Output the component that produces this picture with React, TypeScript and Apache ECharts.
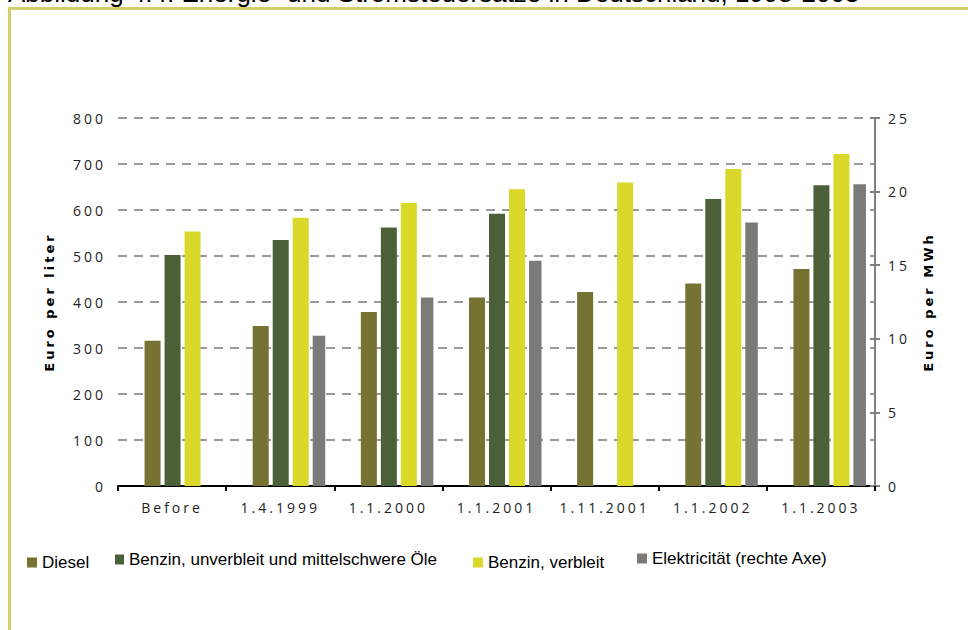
import React, { useEffect, useRef } from "react";
import * as echarts from "echarts";

const titleText = "Abbildung 4.4: Energie- und Stromsteuersätze in Deutschland, 1998-2003";
const categories = ["Before", "1.4.1999", "1.1.2000", "1.1.2001", "1.11.2001", "1.1.2002", "1.1.2003"];
const seriesNames = [
  "Diesel",
  "Benzin, unverbleit und mittelschwere Öle",
  "Benzin, verbleit",
  "Elektricität (rechte Axe)",
];
const diesel = [316, 348, 378, 410, 422, 440, 472];
const benzinUnverbleit = [502, 535, 562, 592, null, 624, 654];
const benzinVerbleit = [553, 583, 615, 645, 660, 689, 722];
const elektrizitaet = [null, 10.2, 12.8, 15.3, null, 17.9, 20.5];
const leftAxisName = "Euro per liter";
const rightAxisName = "Euro per MWh";

const colors = ["#767332", "#4b5f39", "#dad829", "#7a7a78"];
const tickFont = "Open Sans";
const legendFont = "'Liberation Sans Narrow', 'Liberation Sans', Arial, sans-serif";

export default function App() {
  const ref = useRef<HTMLDivElement>(null);
  useEffect(() => {
    if (!ref.current) return;
    const chart = echarts.init(ref.current, null, { renderer: "svg" });
    const bar = (name: string, data: any[], i: number, width: number, yAxisIndex = 0) => ({
      name,
      type: "bar",
      data: data.map((v) => (v == null ? "-" : v)),
      yAxisIndex,
      barWidth: width,
      barGap: "25%",
      itemStyle: { color: colors[i] },
      silent: true,
    });
    const legendAt = (name: string, left: number, top: number, iw: number) => ({
      data: [name],
      left,
      top,
      padding: 0,
      icon: "rect",
      itemWidth: iw,
      itemHeight: 10,
      selectedMode: false,
      textStyle: { fontFamily: legendFont, fontSize: 17, color: "#000" },
    });
    chart.setOption({
      animation: false,
      backgroundColor: "#ffffff",
      graphic: [
        {
          type: "rect",
          shape: { x: 9.5, y: 8.5, width: 980, height: 640 },
          style: { fill: "none", stroke: "#d4cf6e", lineWidth: 3 },
          silent: true,
        },
        {
          type: "text",
          x: 8,
          y: -7,
          style: {
            text: titleText,
            fontFamily: "'Liberation Sans', Arial, sans-serif",
            fontSize: 26,
            fill: "#000",
            verticalAlign: "middle",
            align: "left",
          },
          silent: true,
        },
      ],
      legend: [
        legendAt(seriesNames[0], 27, 554, 10),
        legendAt(seriesNames[1], 115, 551, 9),
        legendAt(seriesNames[2], 473, 554, 10),
        legendAt(seriesNames[3], 637, 550, 10),
      ],
      grid: { left: 118, top: 118, width: 757, height: 368, containLabel: false },
      xAxis: {
        type: "category",
        data: categories,
        axisLine: { show: true, lineStyle: { color: "#000", width: 2 } },
        axisTick: { show: true, length: 5, lineStyle: { color: "#000", width: 2 } },
        axisLabel: { fontFamily: tickFont, fontSize: 14, color: "#222", margin: 14, interval: 0 },
        splitLine: { show: false },
      },
      yAxis: [
        {
          type: "value",
          min: 0,
          max: 800,
          interval: 100,
          position: "left",
          name: leftAxisName,
          nameLocation: "middle",
          nameGap: 62,
          nameTextStyle: { fontFamily: "DejaVu Sans", fontWeight: "bold", fontSize: 13, color: "#000" },
          axisLine: { show: false },
          axisTick: { show: false },
          axisLabel: { fontFamily: tickFont, fontSize: 14, color: "#222", margin: 12 },
          splitLine: { show: true, lineStyle: { color: "#9a9a9a", width: 2, type: [9, 7] } },
        },
        {
          type: "value",
          min: 0,
          max: 25,
          interval: 5,
          position: "right",
          name: rightAxisName,
          nameLocation: "middle",
          nameGap: 47,
          nameTextStyle: { fontFamily: "DejaVu Sans", fontWeight: "bold", fontSize: 13, color: "#000" },
          axisLine: { show: true, lineStyle: { color: "#808080", width: 2 } },
          axisTick: { show: false },
          axisLabel: { fontFamily: tickFont, fontSize: 14, color: "#222", margin: 13 },
          splitLine: { show: false },
        },
        {
          type: "value",
          min: 0,
          max: 25,
          interval: 5,
          position: "right",
          offset: -5,
          axisLine: { show: false },
          axisTick: { show: true, length: 10, lineStyle: { color: "#808080", width: 2 } },
          axisLabel: { show: false },
          splitLine: { show: false },
        },
      ],
      series: [
        { name: "_spacer", type: "bar", data: categories.map(() => "-"), barWidth: 14, barGap: "25%", silent: true },
        bar(seriesNames[0], diesel, 0, 16),
        bar(seriesNames[1], benzinUnverbleit, 1, 16),
        bar(seriesNames[2], benzinVerbleit, 2, 16),
        bar(seriesNames[3], elektrizitaet, 3, 12.5, 1),
      ],
    });
    return () => chart.dispose();
  }, []);
  return (
    <>
      <style>{`#chart text[style*="Open Sans"], #chart text[style*="DejaVu Sans"] { letter-spacing: 3px; }`}</style>
      <div
        id="chart"
        ref={ref}
        style={{ position: "fixed", left: 0, top: 0, width: 968, height: 630, background: "#fff" }}
      />
    </>
  );
}
